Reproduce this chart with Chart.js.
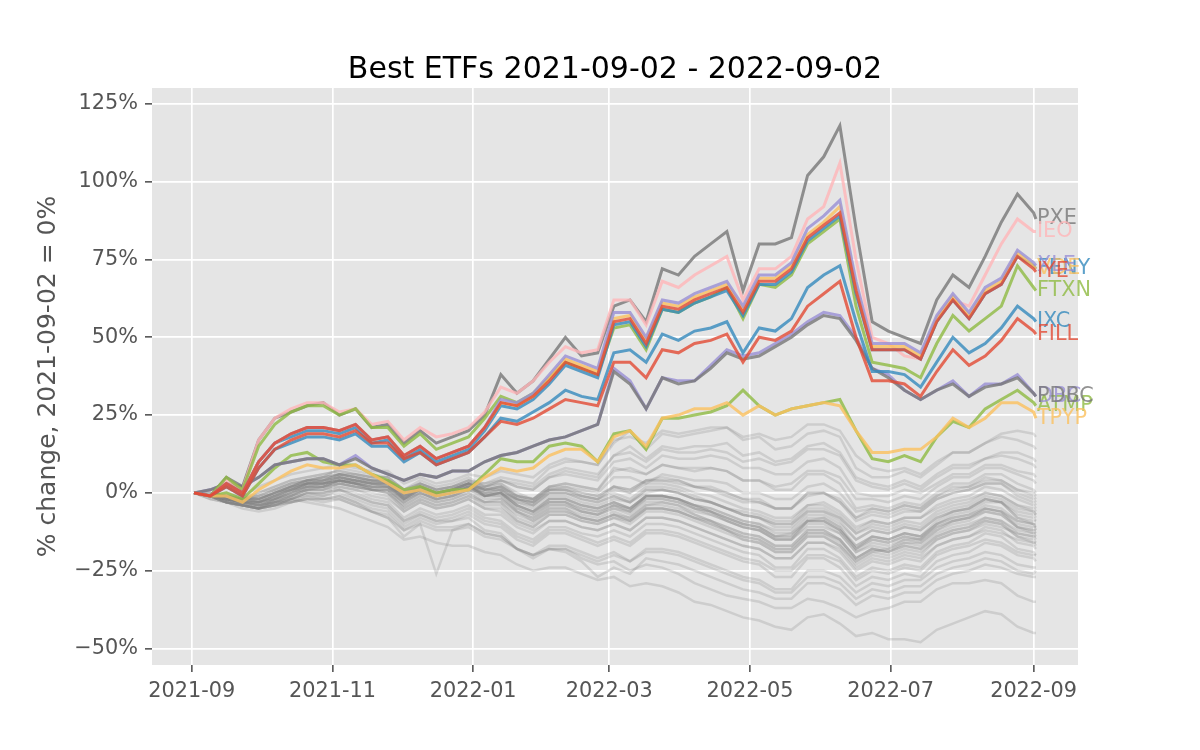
<!DOCTYPE html>
<html><head><meta charset="utf-8">
<script src="https://cdn.jsdelivr.net/npm/chart.js@4/dist/chart.umd.min.js"></script>
<style>html,body{margin:0;padding:0;background:#fff;}canvas{display:block}</style>
</head><body>
<canvas id="c" width="1200" height="750"></canvas>
<script>
// x values: days since 2021-09-02 (weekly samples + final day)
const days = [0,7,14,21,28,35,42,49,56,63,70,77,84,91,98,105,112,119,126,133,140,147,154,161,168,175,182,189,196,203,210,217,224,231,238,245,252,259,266,273,280,287,294,301,308,315,322,329,336,343,350,357,364,365];
const tickDays = [-1,60,121,180,241,302,364];
const tickLabels = ['2021-09','2021-11','2022-01','2022-03','2022-05','2022-07','2022-09'];
const yTicks = [-50,-25,0,25,50,75,100,125];
const titleText = 'Best ETFs 2021-09-02 - 2022-09-02';
const yLabel = '% change, 2021-09-02 = 0%';

// highlighted series (% change)
const PXE  = [0,-1,5,2,17,24,26,28,29,25,27,21,22,16,20,16,18,20,25,38,32,36,43,50,44,45,60,62,55,72,70,76,80,84,65,80,80,82,102,108,118,85,55,52,50,48,62,70,66,76,87,96,90,88];
const IEO  = [0,-1,4,1,17,24,27,29,29,26,27,22,23,17,21,18,19,21,26,34,32,36,42,47,45,46,62,62,54,68,66,70,73,76,62,72,72,76,88,92,106,75,50,48,44,43,56,62,60,70,80,88,84,84];
const XLE  = [0,-1,3,0,10,16,19,21,21,20,22,17,18,12,15,11,13,15,21,30,29,32,38,44,42,40,58,58,50,62,61,64,66,68,60,70,70,74,85,89,94,68,48,48,48,45,57,64,58,66,69,78,74,73];
const VDE  = [0,-1,3,0,10,16,19,21,21,20,22,17,18,12,15,11,13,15,21,29,28,31,37,43,41,39,56,57,49,61,60,63,65,67,59,69,69,73,83,87,92,66,47,47,47,44,56,63,57,65,68,77,73,72];
const IYE  = [0,-1,3,0,10,16,19,21,21,20,22,17,18,12,15,11,13,15,21,29,28,31,36,42,40,38,55,56,48,60,59,62,64,66,58,68,68,72,82,86,90,65,46,46,46,43,55,62,56,64,67,76,72,71];
const FENY = [0,-1,3,0,10,16,18,20,20,19,21,16,17,11,14,10,12,14,20,28,27,30,35,41,39,37,54,55,47,59,58,61,63,65,57,67,67,71,81,85,89,64,46,46,46,43,55,62,56,64,67,76,73,72];
const FTXN = [0,-1,5,1,15,22,26,28,28,25,27,21,21,15,19,14,16,18,24,31,29,32,37,42,40,38,53,54,46,59,58,61,63,66,56,67,66,70,80,84,88,60,42,41,40,37,48,57,52,56,60,73,66,65];
const IXC  = [0,-1,2,-1,8,14,16,18,18,17,19,15,15,10,13,9,11,13,18,24,23,26,29,33,31,30,45,46,42,51,49,52,53,55,45,53,52,56,66,70,73,55,39,39,38,34,42,50,45,48,53,60,56,55];
const FILL = [0,-1,2,-1,8,14,17,19,19,18,20,16,16,11,13,9,11,13,18,23,22,24,27,30,29,28,42,42,37,46,45,48,49,51,42,50,49,52,60,64,68,50,36,36,35,31,39,46,41,44,49,56,52,51];
const DBC  = [0,1,3,2,5,9,10,11,11,9,12,8,6,4,6,5,7,7,10,12,13,15,17,18,20,22,40,36,27,37,36,36,41,46,44,45,48,51,55,58,57,50,40,38,33,30,33,36,31,35,35,38,32,31];
const PDBC = [0,1,3,2,5,9,10,11,11,9,11,8,6,4,6,5,7,7,10,12,13,15,17,18,20,22,39,35,27,37,35,36,40,45,43,44,47,50,54,57,56,49,40,37,33,30,33,35,31,34,35,37,32,31];
const ATMP = [0,-1,0,-2,3,8,12,13,10,9,9,6,4,1,2,0,1,1,6,11,10,10,15,16,15,10,19,20,14,24,24,25,26,28,33,28,25,27,28,29,30,20,11,10,12,10,18,23,21,27,30,33,29,28];
const TPYP = [0,-1,-1,-3,1,4,7,9,8,8,9,6,3,0,1,-1,0,1,5,8,7,8,12,14,14,10,18,20,15,24,25,27,27,29,25,28,25,27,28,29,28,20,13,13,14,14,18,24,21,24,29,29,26,24];

// drawing order: first = on top
const hiNames  = ['IYE','FILL','XLE','VDE','FENY','IXC','FTXN','IEO','PXE','PDBC','DBC','TPYP','ATMP'];
const hiValues = [IYE, FILL, XLE, VDE, FENY, IXC, FTXN, IEO, PXE, PDBC, DBC, TPYP, ATMP];
const hiColors = ['#E24A33','#E24A33','#988ED5','#FBC15E','#348ABD','#348ABD','#8EBA42','#FFB5B8','#777777','#777777','#988ED5','#FBC15E','#8EBA42'];

// other ETFs (grey background lines)
const others = [
[0,-1,0,-1,2,4,6,7,8,9,8,7,7,3,5,3,4,6,5,7,6,5,9,11,10,9,17,18,16,20,19,20,21,21,18,19,17,18,22,22,20,12,8,7,8,6,10,13,13,16,18,17,15,14],
[0,-1,-1,-2,0,2,4,5,6,7,6,5,5,1,3,1,2,4,3,4,2,1,5,7,6,5,12,13,10,14,13,13,14,13,10,11,9,10,14,14,12,4,2,1,3,1,5,8,8,11,12,11,9,8],
[0,-1,-1,-2,-1,1,3,4,5,6,5,4,4,0,2,0,1,3,1,2,-1,-2,2,3,2,1,8,7,6,9,8,7,8,7,4,4,2,3,7,7,5,-2,-2,-3,-1,-2,2,5,5,8,8,6,4,3],
[0,-1,-2,-2,-2,0,2,4,4,6,5,4,4,0,3,1,2,4,2,3,0,-2,2,2,0,-1,2,0,4,4,3,2,1,-1,-3,-3,-5,-5,0,0,-3,-8,-5,-6,-4,-5,-1,1,2,5,4,1,-1,-2],
[0,-1,-2,-3,-3,-1,1,3,3,5,4,3,3,-1,2,0,1,3,0,1,-2,-4,0,0,-2,-3,-1,-3,1,1,0,-2,-3,-5,-6,-7,-9,-9,-4,-4,-7,-12,-9,-10,-8,-8,-4,-2,-1,2,1,-2,-4,-5],
[0,0,-1,-2,-2,0,2,4,4,6,5,4,4,0,3,1,2,4,1,2,-2,-4,0,0,-2,-3,-1,-3,1,1,0,-2,-3,-5,-7,-8,-10,-10,-5,-5,-8,-13,-10,-11,-9,-10,-6,-4,-3,0,-1,-4,-6,-7],
[0,-1,-2,-3,-3,-2,0,2,2,4,3,2,2,-2,1,-1,0,2,-1,0,-4,-6,-2,-2,-4,-5,-3,-5,-1,-1,-2,-4,-5,-7,-9,-10,-12,-12,-7,-7,-10,-15,-12,-13,-11,-12,-8,-6,-5,-2,-3,-6,-7,-8],
[0,-1,-1,-2,-2,0,2,4,5,6,6,5,5,1,4,2,3,5,2,3,-1,-3,1,1,-1,-2,0,-2,2,2,1,-1,-3,-5,-7,-8,-11,-11,-6,-6,-9,-15,-12,-13,-11,-12,-8,-6,-5,-2,-3,-7,-8,-9],
[0,-1,-3,-4,-4,-2,0,2,2,4,3,2,2,-2,1,-1,0,2,-1,0,-4,-6,-2,-2,-4,-5,-3,-5,-1,-1,-2,-4,-5,-7,-9,-10,-13,-13,-8,-8,-11,-17,-14,-15,-13,-14,-10,-8,-7,-4,-5,-9,-10,-10],
[0,-1,-2,-3,-3,-1,1,3,3,5,4,3,3,-2,1,-1,0,2,-1,0,-4,-6,-3,-3,-5,-6,-4,-6,-2,-2,-3,-5,-6,-8,-10,-11,-14,-14,-9,-9,-12,-18,-15,-16,-14,-15,-11,-9,-8,-5,-6,-10,-11,-11],
[0,-1,-2,-2,-3,-1,2,4,5,8,7,6,5,1,3,1,2,3,-1,-1,-6,-9,-5,-5,-8,-9,-7,-8,-4,-3,-4,-7,-9,-12,-15,-16,-19,-19,-14,-14,-17,-22,-19,-18,-15,-15,-10,-7,-6,-3,-3,-8,-10,-12],
[0,-1,-2,-3,-4,-2,-1,1,1,3,2,1,0,-4,-1,-3,-2,0,-3,-2,-6,-8,-4,-4,-6,-7,-5,-7,-3,-3,-4,-6,-7,-9,-11,-12,-15,-15,-10,-10,-13,-19,-16,-17,-15,-16,-12,-10,-9,-6,-7,-11,-12,-13],
[0,-1,-2,-3,-4,-2,0,3,3,4,3,1,0,-5,-2,-4,-3,-1,-4,-4,-9,-11,-7,-7,-9,-10,-8,-9,-5,-5,-6,-8,-10,-12,-14,-15,-18,-18,-13,-13,-15,-21,-18,-19,-16,-16,-12,-9,-8,-5,-6,-11,-13,-14],
[0,-1,-3,-4,-5,-3,-1,1,1,3,2,1,0,-5,-2,-4,-3,-1,-3,-3,-8,-10,-6,-6,-8,-9,-7,-9,-5,-5,-6,-8,-9,-11,-13,-14,-17,-17,-12,-12,-15,-21,-18,-19,-17,-18,-14,-12,-11,-8,-9,-13,-14,-15],
[0,-1,-3,-4,-5,-3,-1,1,1,2,1,0,-1,-6,-3,-5,-4,-2,-5,-5,-9,-11,-7,-7,-9,-10,-8,-10,-6,-6,-7,-9,-11,-13,-15,-16,-19,-19,-14,-14,-17,-23,-20,-21,-19,-20,-15,-13,-12,-9,-10,-14,-15,-16],
[0,-1,-3,-4,-5,-4,-2,0,-1,1,0,-2,-3,-8,-5,-7,-6,-4,-7,-7,-11,-13,-9,-9,-11,-12,-10,-12,-8,-8,-9,-11,-13,-15,-17,-18,-21,-21,-16,-16,-19,-25,-22,-23,-21,-22,-17,-15,-14,-11,-12,-16,-17,-18],
[0,-1,-2,-4,-5,-4,-2,0,0,1,-1,-3,-4,-9,-6,-8,-7,-5,-8,-9,-13,-15,-11,-11,-13,-14,-12,-14,-10,-10,-11,-13,-15,-17,-19,-20,-24,-24,-18,-18,-21,-27,-24,-25,-23,-24,-19,-17,-16,-13,-14,-18,-19,-20],
[0,-1,-3,-5,-6,-5,-3,-2,-2,-1,-3,-5,-6,-11,-8,-10,-9,-7,-10,-11,-15,-17,-13,-13,-15,-17,-15,-17,-13,-13,-14,-16,-18,-20,-22,-23,-27,-27,-21,-21,-24,-30,-27,-28,-26,-27,-22,-20,-19,-16,-17,-20,-21,-22],
[0,-1,-3,-4,-5,-4,-3,-1,-2,-1,-3,-6,-8,-14,-10,-26,-12,-10,-13,-14,-18,-20,-17,-17,-19,-21,-19,-22,-18,-18,-19,-21,-23,-25,-27,-28,-31,-31,-25,-25,-27,-32,-29,-30,-28,-28,-24,-22,-21,-19,-20,-23,-24,-24],
[0,-1,-2,-3,-4,-3,-2,0,0,1,-1,-3,-4,-9,-7,-9,-9,-8,-12,-13,-18,-21,-18,-19,-22,-27,-24,-26,-21,-22,-23,-25,-27,-29,-31,-32,-34,-34,-29,-29,-31,-36,-33,-34,-32,-32,-28,-26,-25,-23,-24,-26,-27,-27],
[0,-1,-2,-4,-5,-4,-3,-2,-3,-2,-4,-6,-8,-12,-10,-12,-12,-11,-14,-15,-18,-20,-18,-18,-21,-23,-22,-25,-23,-24,-26,-29,-31,-33,-34,-35,-37,-37,-34,-35,-37,-40,-38,-37,-35,-35,-31,-29,-29,-28,-29,-33,-35,-35],
[0,-1,-2,-3,-4,-3,-2,-3,-4,-5,-7,-9,-11,-15,-14,-16,-17,-17,-19,-20,-23,-25,-24,-24,-26,-28,-27,-30,-29,-30,-32,-35,-36,-38,-40,-41,-43,-44,-40,-39,-42,-46,-45,-47,-47,-48,-44,-42,-40,-38,-39,-43,-45,-45],
[0,0,-1,-1,-2,0,1,2,3,4,3,3,2,-1,1,0,1,2,0,0,-2,-3,0,0,-1,-2,1,0,3,3,2,0,-1,-3,-5,-6,-8,-8,-4,-3,-6,-11,-9,-10,-8,-8,-5,-3,-2,0,-1,-4,-5,-6],
[0,-1,-2,-2,-3,-1,1,2,2,4,3,2,1,-3,0,-2,-1,1,-2,-2,-6,-8,-5,-5,-7,-8,-6,-8,-4,-4,-5,-7,-9,-11,-13,-14,-17,-17,-12,-12,-15,-21,-18,-19,-17,-18,-14,-12,-11,-9,-10,-14,-16,-17],
[0,-1,-1,-2,-1,1,3,4,4,5,4,3,3,-1,1,-1,0,2,1,2,-1,-2,2,3,2,1,7,8,6,9,8,8,8,7,4,4,1,1,6,6,3,-5,-4,-5,-3,-4,0,3,3,6,6,3,1,0],
[0,-1,-2,-2,-2,0,2,3,4,5,4,4,3,-1,2,0,1,3,1,1,-2,-3,1,1,-1,-2,2,1,4,4,4,2,2,0,-2,-2,-5,-5,0,0,-2,-8,-6,-7,-5,-6,-2,0,1,3,3,0,-2,-3],
[0,-1,-2,-2,0,2,4,5,6,7,6,5,4,0,2,0,1,3,3,5,4,3,8,10,10,9,16,20,14,19,18,19,20,21,17,18,14,15,19,20,18,8,5,5,7,5,9,13,13,16,19,20,19,18],
[0,-1,-2,-3,-2,0,2,3,3,4,3,2,2,-2,0,-2,-1,1,2,4,3,2,6,8,7,6,12,15,11,15,14,15,15,16,12,13,10,11,15,16,13,5,3,2,4,2,6,9,9,11,13,13,11,10],
[0,-1,-2,-3,-3,-2,0,1,2,3,2,1,1,-3,0,-2,-1,1,0,1,-2,-3,1,2,1,0,5,5,3,6,5,4,4,3,0,0,-2,-2,2,3,0,-6,-5,-6,-4,-5,-1,2,2,4,4,1,0,-1],
[0,-2,-3,-4,-5,-2,1,3,4,6,5,4,3,-2,2,-1,1,3,-1,0,-5,-7,-3,-3,-6,-7,-4,-6,-1,-1,-2,-5,-6,-9,-11,-12,-15,-15,-9,-8,-11,-18,-14,-15,-13,-14,-9,-6,-5,-2,-3,-8,-9,-9],
[0,-1,-2,-3,-4,-3,-1,1,2,3,2,1,1,-3,0,-2,-1,1,-1,-1,-5,-7,-4,-4,-6,-7,-5,-6,-2,-2,-3,-5,-7,-9,-11,-12,-15,-15,-11,-11,-13,-19,-17,-18,-16,-17,-13,-11,-10,-8,-9,-12,-13,-13],
[0,-1,-2,-2,-3,-1,1,3,4,5,4,3,3,-1,2,0,1,3,1,1,-3,-5,-2,-2,-4,-5,-3,-5,-1,-1,-2,-4,-6,-8,-10,-11,-14,-13,-9,-9,-12,-17,-14,-15,-13,-14,-10,-8,-7,-5,-6,-9,-10,-11],
[0,-1,-1,-2,-3,-1,1,3,3,4,3,2,2,-2,1,-1,0,2,0,0,-3,-4,-1,-1,-3,-4,-2,-3,0,1,0,-2,-3,-5,-7,-8,-10,-10,-6,-6,-8,-13,-11,-12,-10,-11,-7,-5,-4,-1,-2,-5,-6,-7],
[0,-1,-3,-4,-5,-3,-1,2,2,4,3,1,1,-4,-1,-3,-2,0,-3,-3,-7,-9,-6,-6,-8,-9,-7,-9,-5,-5,-6,-8,-10,-12,-14,-15,-18,-18,-13,-13,-16,-22,-19,-20,-18,-19,-15,-13,-12,-10,-11,-13,-14,-14],
[0,-2,-3,-4,-5,-4,-2,0,0,2,1,-1,-2,-6,-3,-5,-4,-2,-5,-6,-10,-12,-9,-9,-11,-12,-10,-12,-8,-8,-9,-11,-13,-15,-17,-18,-21,-21,-16,-16,-18,-24,-21,-22,-20,-21,-17,-15,-14,-12,-13,-15,-16,-16],
[0,-1,-3,-4,-5,-4,-2,-1,-1,0,-2,-4,-5,-10,-7,-9,-8,-6,-9,-10,-14,-16,-12,-12,-14,-16,-14,-16,-12,-12,-13,-15,-17,-19,-21,-22,-25,-25,-20,-20,-22,-28,-25,-26,-24,-25,-20,-18,-17,-15,-16,-19,-20,-20],
[0,-1,-1,-2,-1,1,3,4,5,6,5,4,4,0,2,0,1,3,2,4,2,1,5,6,5,4,10,11,8,12,11,11,12,11,8,8,6,6,10,11,8,0,-1,-1,1,0,3,6,6,9,9,7,6,5],
[0,-1,-2,-3,-4,-3,-3,-2,-2,-2,-4,-6,-7,-12,-9,-11,-11,-10,-13,-14,-18,-20,-18,-18,-20,-22,-20,-22,-19,-19,-20,-22,-24,-26,-28,-29,-32,-32,-27,-27,-29,-34,-31,-32,-30,-30,-26,-24,-23,-21,-22,-25,-26,-25],
[0,0,-1,-2,-2,0,2,3,3,5,4,3,3,-1,2,0,1,3,1,2,-1,-2,1,1,0,-1,2,1,4,5,4,2,1,0,-2,-3,-5,-5,-1,0,-3,-9,-7,-8,-6,-6,-2,0,1,3,3,-1,-3,-4],
[0,-1,-2,-3,-3,-2,0,2,3,4,4,3,2,-2,1,-1,0,2,-1,0,-4,-6,-3,-3,-5,-6,-4,-5,-1,-1,-2,-4,-6,-8,-10,-11,-14,-14,-9,-9,-12,-18,-15,-16,-14,-15,-11,-9,-8,-6,-7,-11,-12,-12]
];

function hexA(hex, a){
  const n = parseInt(hex.slice(1),16);
  return `rgba(${(n>>16)&255},${(n>>8)&255},${n&255},${a})`;
}
const toPts = vals => vals.map((v,i)=>({x:days[i], y:v}));

const datasets = [];
hiNames.forEach((name,i)=>{
  datasets.push({label:name, data:toPts(hiValues[i]), borderColor:hexA(hiColors[i],0.8),
    borderWidth:3, pointRadius:0, tension:0, order:1, isHi:true, txtColor:hexA(hiColors[i],0.8)});
});
others.forEach((vals,i)=>{
  datasets.push({label:'other'+i, data:toPts(vals), borderColor:'rgba(128,128,128,0.24)',
    borderWidth:2.5, pointRadius:0, tension:0, order:2, isHi:false});
});

const FONT = 'DejaVu Sans';
const bgPlugin = {
  id:'bg',
  beforeDraw(chart){
    const {ctx, chartArea:a} = chart;
    ctx.save(); ctx.fillStyle='#E5E5E5';
    ctx.fillRect(a.left, a.top, a.right-a.left, a.bottom-a.top); ctx.restore();
  },
  afterDraw(chart){
    const {ctx, chartArea:a} = chart;
    ctx.save(); ctx.fillStyle='#000'; ctx.font = `30px "${FONT}"`;
    ctx.textAlign='center'; ctx.textBaseline='alphabetic';
    ctx.fillText(titleText, (a.left+a.right)/2, a.top-10); ctx.restore();
  }
};
const labelPlugin = {
  id:'endLabels',
  afterDatasetsDraw(chart){
    const ctx = chart.ctx; ctx.save();
    ctx.font = `20.8px "${FONT}"`; ctx.textAlign='left'; ctx.textBaseline='middle';
    for (let i = chart.data.datasets.length-1; i>=0; i--){
      const ds = chart.data.datasets[i];
      if (!ds.isHi) continue;
      const meta = chart.getDatasetMeta(i);
      const p = meta.data[meta.data.length-1];
      ctx.fillStyle = ds.txtColor;
      ctx.fillText(ds.label, p.x+1, p.y);
    }
    ctx.restore();
  }
};

new Chart(document.getElementById('c'), {
  type:'line',
  data:{datasets},
  options:{
    responsive:false, animation:false, events:[],
    layout:{padding:{top:88, right:122, left:0, bottom:0}},
    plugins:{legend:{display:false}, tooltip:{enabled:false}, title:{display:false}},
    scales:{
      x:{type:'linear', min:-18.25, max:383.25,
        afterFit(s){ s.height = 85; },
        afterBuildTicks(s){ s.ticks = tickDays.map(v=>({value:v})); },
        grid:{color:'#FFFFFF', lineWidth:1.7, tickColor:'#555555', tickLength:7, tickWidth:1.6},
        border:{display:false},
        ticks:{autoSkip:false, maxRotation:0, padding:7, color:'#555555', font:{family:FONT, size:20.8},
          callback(v){ const k = tickDays.indexOf(v); return k>=0 ? tickLabels[k] : ''; }}
      },
      y:{type:'linear', min:-55.3, max:130.1,
        afterFit(s){ s.width = 152; },
        afterBuildTicks(s){ s.ticks = yTicks.map(v=>({value:v})); },
        grid:{color:'#FFFFFF', lineWidth:1.7, tickColor:'#555555', tickLength:7, tickWidth:1.6},
        border:{display:false},
        title:{display:true, text:yLabel, color:'#555555', font:{family:FONT, size:25}, padding:{top:33, bottom:0}},
        ticks:{padding:7, color:'#555555', font:{family:FONT, size:20.8},
          callback(v){ return (v<0 ? '\u2212'+Math.abs(v) : v) + '%'; }}
      }
    }
  },
  plugins:[bgPlugin, labelPlugin]
});
</script>
</body></html>
